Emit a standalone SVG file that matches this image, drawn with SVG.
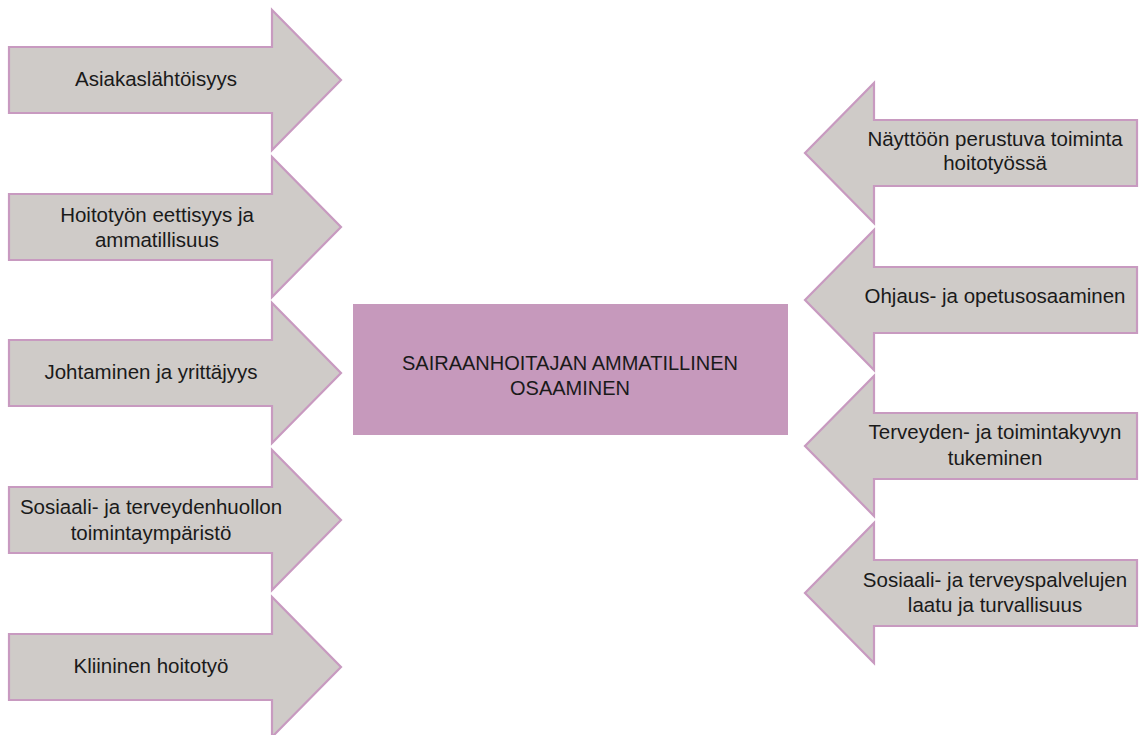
<svg xmlns="http://www.w3.org/2000/svg" width="1140" height="735" viewBox="0 0 1140 735">
<style>
.arr{fill:#CFCBC8;stroke:#C89AC0;stroke-width:2.2;stroke-linejoin:miter}
.t{font-family:"Liberation Sans",Arial,sans-serif;font-size:20.5px;fill:#1a1a1a;text-anchor:middle}
.c{font-family:"Liberation Sans",Arial,sans-serif;font-size:20px;fill:#1a1a1a;text-anchor:middle}
</style>
<rect width="1140" height="735" fill="#ffffff"/>
<g id="center">
<rect x="353" y="304" width="435" height="131" fill="#C699BC"/>
<text class="c" x="570" y="370">SAIRAANHOITAJAN AMMATILLINEN</text>
<text class="c" x="570" y="395">OSAAMINEN</text>
</g>
<g id="connectors"></g>
<g id="l1">
<path class="arr" d="M9,47 H272 V10 L341,80 L272,150 V113 H9 Z"/>
<text class="t" x="156" y="86">Asiakaslähtöisyys</text>
</g>
<g id="l2">
<path class="arr" d="M9,194 H272 V157 L341,227 L272,297 V260 H9 Z"/>
<text class="t" x="157" y="222">Hoitotyön eettisyys ja</text>
<text class="t" x="157" y="247">ammatillisuus</text>
</g>
<g id="l3">
<path class="arr" d="M9,340 H272 V303 L341,373 L272,443 V406 H9 Z"/>
<text class="t" x="151" y="379">Johtaminen ja yrittäjyys</text>
</g>
<g id="l4">
<path class="arr" d="M9,487 H272 V450 L341,520 L272,590 V553 H9 Z"/>
<text class="t" x="151" y="514">Sosiaali- ja terveydenhuollon</text>
<text class="t" x="151" y="540">toimintaympäristö</text>
</g>
<g id="l5">
<path class="arr" d="M9,634 H272 V597 L341,667 L272,737 V700 H9 Z"/>
<text class="t" x="151" y="673">Kliininen hoitotyö</text>
</g>
<g id="r1">
<path class="arr" d="M1137,120 H874 V83 L805,153 L874,223 V186 H1137 Z"/>
<text class="t" x="995" y="146">Näyttöön perustuva toiminta</text>
<text class="t" x="995" y="170">hoitotyössä</text>
</g>
<g id="r2">
<path class="arr" d="M1137,267 H874 V230 L805,300 L874,370 V333 H1137 Z"/>
<text class="t" x="995" y="303">Ohjaus- ja opetusosaaminen</text>
</g>
<g id="r3">
<path class="arr" d="M1137,413 H874 V376 L805,446 L874,516 V479 H1137 Z"/>
<text class="t" x="995" y="439">Terveyden- ja toimintakyvyn</text>
<text class="t" x="995" y="465">tukeminen</text>
</g>
<g id="r4">
<path class="arr" d="M1137,560 H874 V523 L805,593 L874,663 V626 H1137 Z"/>
<text class="t" x="995" y="587">Sosiaali- ja terveyspalvelujen</text>
<text class="t" x="995" y="612">laatu ja turvallisuus</text>
</g>
</svg>
